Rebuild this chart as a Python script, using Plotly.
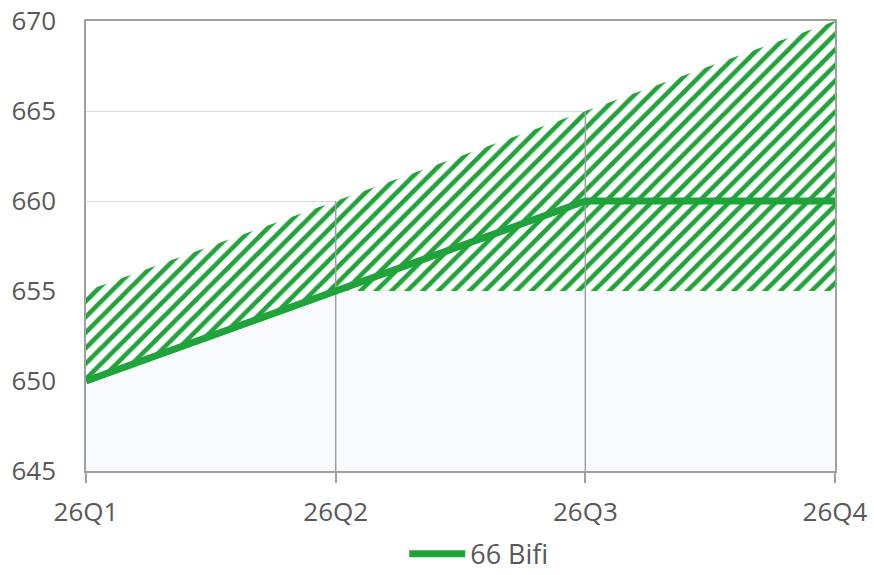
import plotly.graph_objects as go

categories = ["26Q1", "26Q2", "26Q3", "26Q4"]
series_name = "66 Bifi"
line_values = [650, 655, 660, 660]
band_lower = [650, 655, 655, 655]
band_upper = [655, 660, 665, 670]
y_ticks = [645, 650, 655, 660, 665, 670]

GREEN = "#1fa33a"
GRAY_TXT = "#595959"
AXIS_GRAY = "#a0a0a0"
FONT = "Open Sans"
FS = 26

x = list(range(len(categories)))
ymin, ymax = y_ticks[0], y_ticks[-1]

fig = go.Figure()

# light fill below the band
fig.add_trace(go.Scatter(
    x=x, y=band_lower, mode="lines", line=dict(width=0, color="#f9fafd"),
    fill="tozeroy", fillcolor="#f9fafd", showlegend=False, hoverinfo="skip"))

# hatched band
fig.add_trace(go.Scatter(
    x=x, y=band_upper, mode="lines", line=dict(width=0, color=GREEN),
    fill="tonexty",
    fillpattern=dict(shape="/", fgcolor=GREEN, fgopacity=1, bgcolor="white",
                     size=11, solidity=0.42),
    showlegend=False, hoverinfo="skip"))

# drop lines at inner categories up to the band top
vx, vy = [], []
for i in range(1, len(categories) - 1):
    vx += [x[i], x[i], None]
    vy += [ymin, band_upper[i], None]
fig.add_trace(go.Scatter(
    x=vx, y=vy, mode="lines", line=dict(width=1.5, color=AXIS_GRAY),
    showlegend=False, hoverinfo="skip"))

# main line
fig.add_trace(go.Scatter(
    x=x, y=line_values, mode="lines", name=series_name,
    line=dict(width=7, color=GREEN)))

fig.update_layout(
    width=874, height=575,
    margin=dict(l=86, r=39, t=21, b=104, autoexpand=False),
    paper_bgcolor="white", plot_bgcolor="white",
    font=dict(family=FONT, size=FS, color=GRAY_TXT),
    showlegend=True,
    legend=dict(orientation="h", x=0.525, xanchor="center", y=-0.185, yanchor="middle",
                font=dict(size=27, color=GRAY_TXT), itemwidth=56,
                bgcolor="rgba(0,0,0,0)"),
)

fig.update_xaxes(
    range=[x[0], x[-1]], tickvals=x, ticktext=categories,
    showgrid=False, zeroline=False, automargin=False,
    showline=True, mirror=True, linecolor=AXIS_GRAY, linewidth=1.5,
    ticks="outside", ticklen=10, tickcolor=AXIS_GRAY, tickwidth=1.5,
    ticklabelstandoff=7, ticklabeloverflow="allow",
    tickfont=dict(size=FS, color=GRAY_TXT, family=FONT))

fig.update_yaxes(
    range=[ymin, ymax], tickvals=y_ticks,
    showgrid=True, gridcolor="#d9d9d9", gridwidth=1.2, zeroline=False, automargin=False,
    showline=True, mirror=True, linecolor=AXIS_GRAY, linewidth=1.5,
    ticks="", ticklabelstandoff=23, ticklabeloverflow="allow",
    tickfont=dict(size=FS, color=GRAY_TXT, family=FONT))

fig.write_html("out.html", config={"displayModeBar": False},
               post_script="document.body.style.margin='0';")
